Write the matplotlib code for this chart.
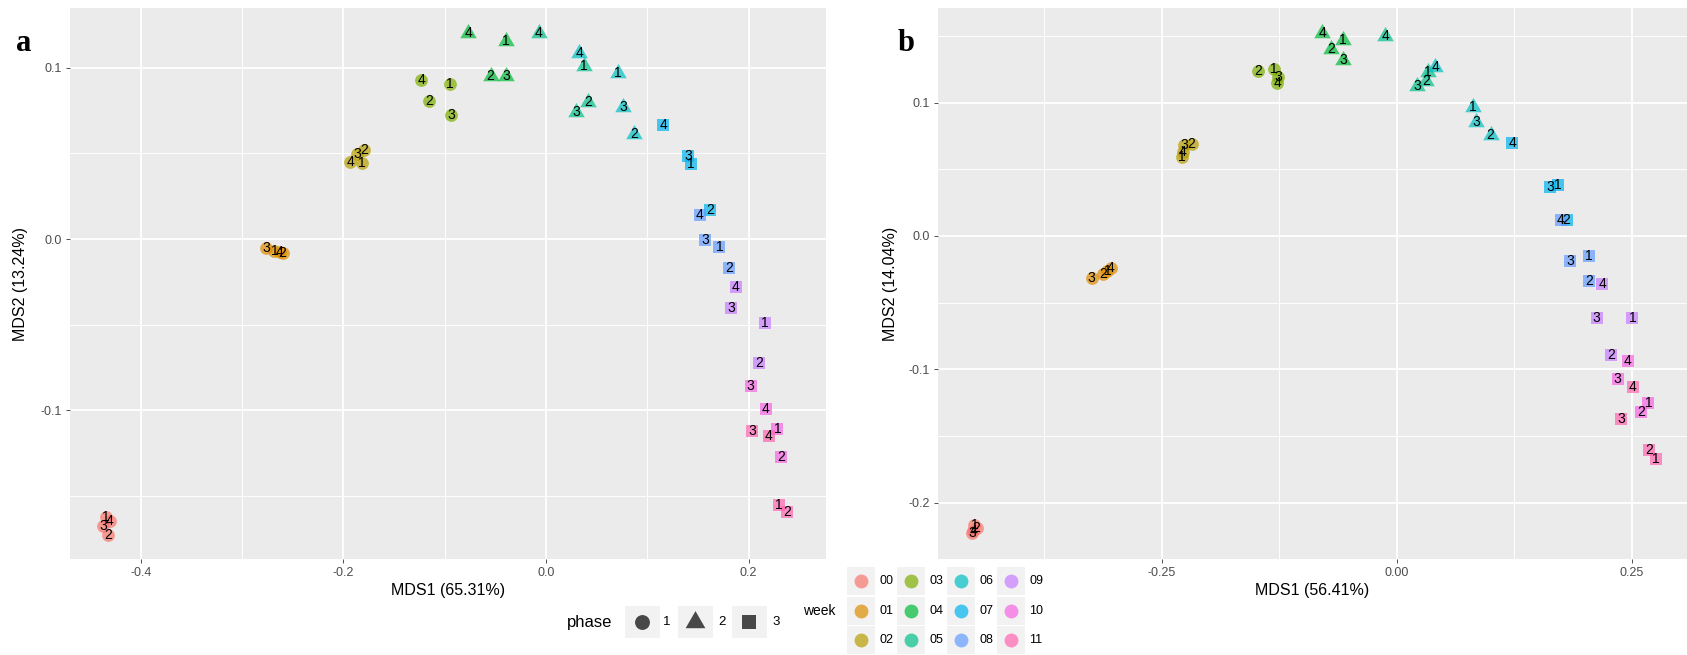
import matplotlib
matplotlib.use("Agg")
import matplotlib.pyplot as plt
from matplotlib.patches import Rectangle

plt.rcParams['font.family'] = ['Liberation Sans', 'DejaVu Sans']
plt.rcParams['axes.unicode_minus'] = False

# ---------------- data ----------------
weeks = ['00', '01', '02', '03', '04', '05', '06', '07', '08', '09', '10', '11']
week_phase = [1, 1, 1, 1, 2, 2, 2, 3, 3, 3, 3, 3]
week_colors = ["#F8766D", "#DE8C00", "#B79F00", "#7CAE00", "#00BA38", "#00C08B",
               "#00BFC4", "#00B4F0", "#619CFF", "#C77CFF", "#F564E3", "#FF64B0"]
replicates = ['1', '2', '3', '4']
phases = ['1', '2', '3']

# panel a: per week, replicates 1..4
mds1_a = [
    [-0.434, -0.432, -0.437, -0.4306],
    [-0.268, -0.260, -0.276, -0.2627],
    [-0.182, -0.1796, -0.1866, -0.193],
    [-0.0948, -0.1152, -0.0937, -0.1232],
    [-0.0395, -0.0546, -0.0395, -0.0767],
    [0.0378, 0.0418, 0.0296, -0.0069],
    [0.0714, 0.0872, 0.0763, 0.0329],
    [0.1428, 0.1619, 0.1405, 0.1158],
    [0.1711, 0.1807, 0.157, 0.152],
    [0.2162, 0.2106, 0.1826, 0.1873],
    [0.2284, 0.2317, 0.2021, 0.2169],
    [0.230, 0.2376, 0.2037, 0.2201],
]
mds2_a = [
    [-0.162, -0.1727, -0.1674, -0.1643],
    [-0.0068, -0.0083, -0.0054, -0.0078],
    [0.0442, 0.0519, 0.0496, 0.0451],
    [0.0903, 0.0807, 0.0723, 0.0928],
    [0.1155, 0.0951, 0.0951, 0.120],
    [0.1009, 0.0801, 0.0743, 0.120],
    [0.0967, 0.0611, 0.0772, 0.1083],
    [0.0438, 0.0169, 0.0484, 0.0665],
    [-0.0045, -0.0171, -0.0006, 0.014],
    [-0.0488, -0.0722, -0.0404, -0.0282],
    [-0.111, -0.127, -0.0858, -0.0992],
    [-0.1552, -0.1591, -0.112, -0.1149],
]

# panel b: per week, replicates 1..4
mds1_b = [
    [-0.449, -0.4465, -0.4512, -0.4501],
    [-0.3076, -0.3119, -0.3242, -0.304],
    [-0.2286, -0.218, -0.2258, -0.2275],
    [-0.1302, -0.1472, -0.1259, -0.127],
    [-0.0569, -0.0699, -0.0569, -0.0792],
    [0.0328, 0.031, 0.0218, -0.0125],
    [0.0807, 0.0997, 0.0842, 0.0406],
    [0.1716, 0.1805, 0.1628, 0.1228],
    [0.2042, 0.2042, 0.1841, 0.1742],
    [0.2503, 0.2276, 0.2124, 0.2184],
    [0.2673, 0.2595, 0.2347, 0.2454],
    [0.2755, 0.268, 0.2383, 0.2507],
]
mds2_b = [
    [-0.2165, -0.219, -0.2227, -0.2207],
    [-0.026, -0.0285, -0.0312, -0.0242],
    [0.0594, 0.0689, 0.0682, 0.0631],
    [0.1251, 0.1238, 0.1189, 0.1144],
    [0.1468, 0.1401, 0.1318, 0.1518],
    [0.1231, 0.1163, 0.1124, 0.1498],
    [0.0964, 0.0757, 0.0856, 0.1268],
    [0.0382, 0.012, 0.0369, 0.0699],
    [-0.015, -0.0335, -0.0185, 0.012],
    [-0.0612, -0.0891, -0.0612, -0.0362],
    [-0.1253, -0.1316, -0.1074, -0.0934],
    [-0.1673, -0.1603, -0.1373, -0.1134],
]

xlabel_a = "MDS1 (65.31%)"
ylabel_a = "MDS2 (13.24%)"
xlabel_b = "MDS1 (56.41%)"
ylabel_b = "MDS2 (14.04%)"

xticks_a = [-0.4, -0.2, 0.0, 0.2]
xticklabels_a = ['-0.4', '-0.2', '0.0', '0.2']
yticks_a = [-0.1, 0.0, 0.1]
yticklabels_a = ['-0.1', '0.0', '0.1']
xticks_b = [-0.25, 0.0, 0.25]
xticklabels_b = ['-0.25', '0.00', '0.25']
yticks_b = [-0.2, -0.1, 0.0, 0.1]
yticklabels_b = ['-0.2', '-0.1', '0.0', '0.1']

# ---------------- style ----------------
W, H = 1687, 655
fig = plt.figure(figsize=(W / 100, H / 100), dpi=100)
fig.patch.set_facecolor('white')

tri = [(0, 1), (-0.866, -0.5), (0.866, -0.5)]
phase_markers = {1: 'o', 2: tri, 3: 's'}
phase_sizes = {1: 85, 2: 190, 3: 83}
ALPHA = 0.7


def px_axes(l, t, r, b):
    return fig.add_axes([l / W, 1 - b / H, (r - l) / W, (b - t) / H])


def style_axes(ax, xlim, ylim, xt, xtl, yt, ytl, xminor, yminor):
    ax.set_facecolor('#EBEBEB')
    for s in ax.spines.values():
        s.set_visible(False)
    ax.set_xlim(*xlim)
    ax.set_ylim(*ylim)
    ax.set_xticks(xt)
    ax.set_xticklabels(xtl)
    ax.set_yticks(yt)
    ax.set_yticklabels(ytl)
    ax.set_xticks(xminor, minor=True)
    ax.set_yticks(yminor, minor=True)
    ax.grid(which='major', color='white', linewidth=1.3)
    ax.grid(which='minor', color='white', linewidth=0.65)
    ax.set_axisbelow(True)
    ax.tick_params(which='major', length=3, width=0.6, color='#333333',
                   labelsize=9, labelcolor='#4D4D4D', pad=2.5)
    ax.tick_params(which='minor', length=0)


def draw_points(ax, mds1, mds2):
    for w in range(len(weeks)):
        ph = week_phase[w]
        ax.scatter(mds1[w], mds2[w], marker=phase_markers[ph], s=phase_sizes[ph],
                   color=week_colors[w], alpha=ALPHA, linewidths=0, zorder=2)
    for w in range(len(weeks)):
        for k, rep in enumerate(replicates):
            ax.text(mds1[w][k], mds2[w][k], rep, ha='center', va='center',
                    fontsize=10, color='black', zorder=3)


# panel a
ax_a = px_axes(69.8, 8, 825.6, 559.3)
style_axes(ax_a, (-0.470, 0.276), (-0.1869, 0.1348),
           xticks_a, xticklabels_a, yticks_a, yticklabels_a,
           [-0.3, -0.1, 0.1], [-0.15, -0.05, 0.05])
draw_points(ax_a, mds1_a, mds2_a)
ax_a.set_xlabel(xlabel_a, fontsize=11.5, va='center')
ax_a.xaxis.set_label_coords(0.5, (559.3 - 590) / 551.3)
ax_a.set_ylabel(ylabel_a, fontsize=11.5, va='center')
ax_a.yaxis.set_label_coords((20.4 - 69.8) / 755.8, 0.5)

# panel b
ax_b = px_axes(938, 8, 1687, 559)
style_axes(ax_b, (-0.4876, 0.3084), (-0.242, 0.1708),
           xticks_b, xticklabels_b, yticks_b, yticklabels_b,
           [-0.375, -0.125, 0.125], [-0.15, -0.05, 0.05, 0.15])
draw_points(ax_b, mds1_b, mds2_b)
ax_b.set_xlabel(xlabel_b, fontsize=11.5, va='center')
ax_b.xaxis.set_label_coords(0.5, (559 - 590) / 551)
ax_b.set_ylabel(ylabel_b, fontsize=11.5, va='center')
ax_b.yaxis.set_label_coords((890 - 938) / 749, 0.5)

# panel letters
fig.text(24 / W, 1 - 51 / H, 'a', ha='center', va='baseline', fontsize=22,
         fontweight='bold', family=['Liberation Serif', 'DejaVu Serif'])
fig.text(906 / W, 1 - 51 / H, 'b', ha='center', va='baseline', fontsize=22,
         fontweight='bold', family=['Liberation Serif', 'DejaVu Serif'])

# ---------------- legends (pixel-coordinate overlay) ----------------
lax = fig.add_axes([0, 0, 1, 1])
lax.set_xlim(0, W)
lax.set_ylim(H, 0)
lax.axis('off')
lax.patch.set_visible(False)

# phase legend
lax.text(567, 622, 'phase', ha='left', va='center', fontsize=12, color='black')
phase_key_x = [642.5, 695.5, 749.5]
phase_label_x = [667, 722, 776]
phase_leg_sizes = {1: 115, 2: 270, 3: 112}
for i, ph in enumerate(phases):
    cx = phase_key_x[i]
    lax.add_patch(Rectangle((cx - 17.5, 606), 35, 32, facecolor='#F2F2F2',
                            edgecolor='none'))
    lax.scatter([cx], [622], marker=phase_markers[i + 1], s=phase_leg_sizes[i + 1],
                color='black', alpha=ALPHA, linewidths=0)
    lax.text(phase_label_x[i], 622, ph, ha='center', va='center', fontsize=9.5)

# week legend
lax.text(803, 611, 'week', ha='left', va='center', fontsize=10, color='black')
col_x = [860.7, 910.7, 960.7, 1010.7]
row_y = [581, 610.5, 640]
for w, wk in enumerate(weeks):
    c, r = divmod(w, 3)
    cx, cy = col_x[c], row_y[r]
    lax.add_patch(Rectangle((cx - 14, cy - 14), 28, 28, facecolor='#F2F2F2',
                            edgecolor='none'))
    lax.scatter([cx], [cy], marker='o', s=100, color=week_colors[w],
                alpha=ALPHA, linewidths=0)
    lax.text(cx + 18.5, cy, wk, ha='left', va='center', fontsize=9)

fig.savefig('out.png', dpi=100, facecolor='white')
